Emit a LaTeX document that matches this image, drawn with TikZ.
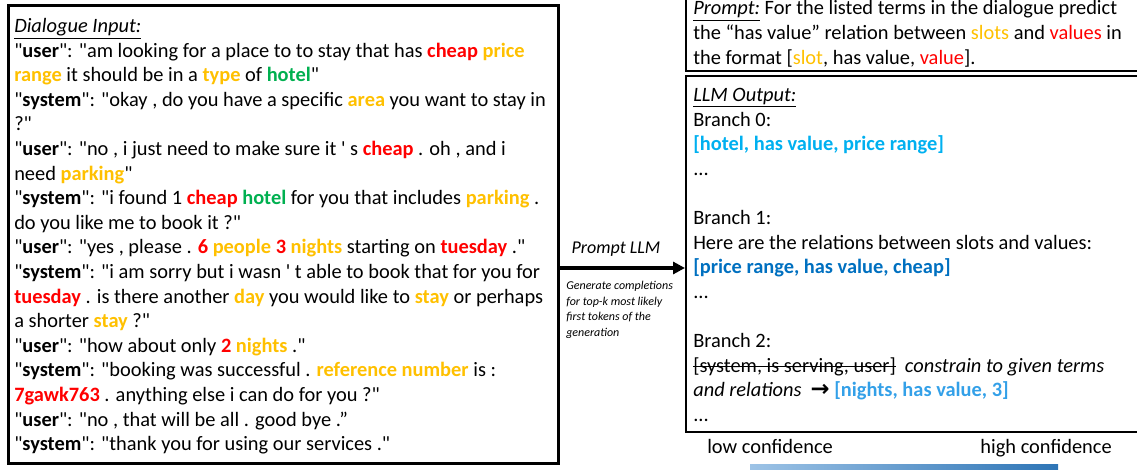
\documentclass[tikz,border=0pt]{standalone}
\usepackage{fontspec}
\setmainfont{Carlito}[Ligatures=TeXOff]
\newfontfamily\arrowfont{DejaVu Sans}
\usetikzlibrary{arrows.meta,fit}

\definecolor{slotc}{RGB}{255,192,0}
\definecolor{valuec}{RGB}{255,0,0}
\definecolor{domainc}{RGB}{0,176,80}
\definecolor{branchA}{RGB}{0,176,240}
\definecolor{branchB}{RGB}{0,112,192}
\definecolor{branchC}{RGB}{51,160,232}
\newcommand{\slotw}[1]{\textbf{\textcolor{slotc}{#1}}}
\newcommand{\valw}[1]{\textbf{\textcolor{valuec}{#1}}}
\newcommand{\domw}[1]{\textbf{\textcolor{domainc}{#1}}}
\newcommand{\spk}[1]{"\textbf{#1}"}
\newcommand{\strikew}[1]{\setbox0\hbox{#1}\rlap{\raisebox{0.26em}{\rule{\wd0}{0.06em}}}\box0}

\begin{document}
\begin{tikzpicture}[x=0.75pt,y=0.75pt,yscale=-1,xscale=1,
  box/.style={draw, inner sep=0pt},
  txt/.style={anchor=north west, inner sep=0.75pt, font=\fontsize{15.3}{18.45}\selectfont, align=left}]
\useasboundingbox (0,0) rectangle (1137,470);

%Shape: Rectangle [id:dialogue]
\node (dialogue) [box, line width=2.25pt, fit={(8,6) (558,463)}] {};
%Shape: Rectangle [id:prompt]
\node (prompt) [box, line width=1.5pt, fit={(686,-20) (1150,71.5)}] {};
%Shape: Rectangle [id:output]
\node (output) [box, line width=1.5pt, fit={(686,76) (1150,432)}] {};

% Text Node
\node (dialoguetext) [txt] at (13,17) {\underline{\textit{Dialogue Input:}}\\
\spk{user}: "am looking for a place to to stay that has \valw{cheap} \slotw{price}\\
\slotw{range} it should be in a \slotw{type} of \domw{hotel}"\\
\spk{system}: "okay , do you have a specific \slotw{area} you want to stay in\\
?"\\
\spk{user}: "no , i just need to make sure it ' s \valw{cheap} . oh , and i\\
need \slotw{parking}"\\
\spk{system}: "i found 1 \valw{cheap} \domw{hotel} for you that includes \slotw{parking} .\\
do you like me to book it ?"\\
\spk{user}: "yes , please . \valw{6} \slotw{people} \valw{3} \slotw{nights} starting on \valw{tuesday} ."\\
\spk{system}: "i am sorry but i wasn ' t able to book that for you for\\
\valw{tuesday} . is there another \slotw{day} you would like to \slotw{stay} or perhaps\\
a shorter \slotw{stay} ?"\\
\spk{user}: "how about only \valw{2} \slotw{nights} ."\\
\spk{system}: "booking was successful . \slotw{reference number} is :\\
\valw{7gawk763} . anything else i can do for you ?"\\
\spk{user}: "no , that will be all . good bye .”\\
\spk{system}: "thank you for using our services ."};

% Text Node
\node (prompttext) [txt] at (692,-0.5) {\underline{\textit{Prompt:}} For the listed terms in the dialogue predict\\
the “has value” relation between \textcolor{slotc}{slots} and \textcolor{valuec}{values} in\\
the format [\textcolor{slotc}{slot}, has value, \textcolor{valuec}{value}].};

% Text Node
\node (outputtext) [txt] at (692,87) {\underline{\textit{LLM Output:}}\\
Branch 0:\\
\textbf{\textcolor{branchA}{[hotel, has value, price range]}}\\
...\\
~\\
Branch 1:\\
Here are the relations between slots and values:\\
\textbf{\textcolor{branchB}{[price range, has value, cheap]}}\\
...\\
~\\
Branch 2:\\
\strikew{[system, is serving, user]}\ \ \textit{constrain to given terms}\\
\textit{and relations}\ \ {\arrowfont\bfseries\fontsize{17}{18}\selectfont →}\ \textbf{\textcolor{branchC}{[nights, has value, 3]}}\\
...};

%Straight Lines [id:promptllm]
\coordinate (llm) at (622,268);
\draw [line width=3pt, -{Triangle[length=9pt,width=9pt]}] (dialogue.east |- llm) -- (output.west |- llm);

% Text Node
\node (llmlabel) [anchor=south, inner sep=0.75pt, font=\fontsize{13.5}{16}\selectfont\itshape] at (616,258) {Prompt LLM};
% Text Node
\node (llmnote) [anchor=north west, inner sep=0.75pt, font=\fontsize{9}{11.6}\selectfont\itshape, align=left] at (565,280) {Generate completions\\for top-k most likely\\first tokens of the\\generation};

% Text Node
\node (lowconf) [anchor=base west, inner sep=0.75pt, font=\fontsize{15.3}{18.45}\selectfont] at (706,453) {low confidence};
% Text Node
\node (highconf) [anchor=base east, inner sep=0.75pt, font=\fontsize{15.3}{18.45}\selectfont] at (1113,453) {high confidence};

%Shape: Rectangle [id:confbar]
\shade [left color={rgb, 255:red, 157; green, 195; blue, 230}, right color={rgb, 255:red, 46; green, 117; blue, 182}] (750,464) rectangle (1058,480);
\end{tikzpicture}
\end{document}
